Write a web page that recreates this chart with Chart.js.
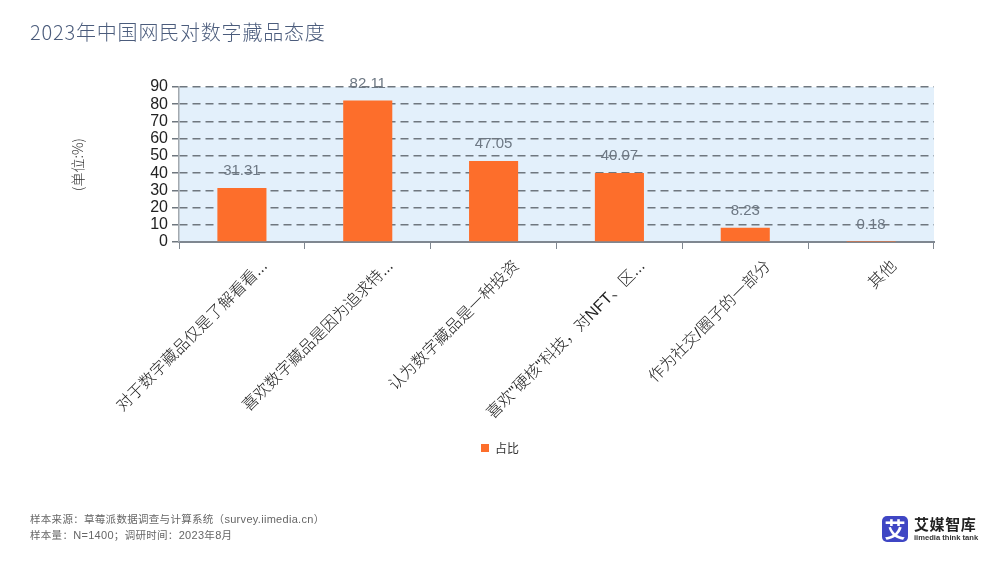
<!DOCTYPE html>
<html>
<head>
<meta charset="utf-8">
<script src="https://cdn.jsdelivr.net/npm/chart.js@4/dist/chart.umd.min.js"></script>
<style>
html, body { margin: 0; padding: 0; background: #fff; }
body { width: 1000px; height: 563px; position: relative; overflow: hidden; font-family: "Noto Sans CJK SC", sans-serif; }
#wrap { position: absolute; left: 0; top: 0; width: 1000px; height: 563px; }
#title { position: absolute; left: 30px; top: 18px; font-size: 20px; letter-spacing: 0.8px; color: #4b5c7c; font-weight: 300; white-space: nowrap; line-height: 28px; }
.foot { position: absolute; left: 30px; font-size: 10.5px; color: #666; white-space: nowrap; line-height: 14px; letter-spacing: 0.3px; }
.foot b { font-family: "Liberation Sans"; font-weight: normal; font-size: 11px; }
#logoBox { position: absolute; left: 882px; top: 516px; width: 26px; height: 26px; border-radius: 5px; background: #3f46c4; color: #fff; font-size: 21px; font-weight: 700; line-height: 25px; text-align: center; }
#logoName { position: absolute; left: 914px; top: 514px; font-size: 15px; font-weight: 700; color: #222; line-height: 20px; letter-spacing: 0.6px; white-space: nowrap; }
#logoSub { position: absolute; left: 914px; top: 533px; font-family: "Liberation Sans"; font-size: 7.6px; font-weight: 700; color: #333; line-height: 10px; white-space: nowrap; }
</style>
</head>
<body>
<div id="wrap"><canvas id="chart" width="1000" height="563"></canvas></div>
<div id="title">2023年中国网民对数字藏品态度</div>
<div class="foot" style="top:512px">样本来源：草莓派数据调查与计算系统（<b>survey.iimedia.cn</b>）</div>
<div class="foot" style="top:528px">样本量：<b>N=1400</b>；调研时间：<b>2023</b>年<b>8</b>月</div>
<div id="logoBox">艾</div>
<div id="logoName">艾媒智库</div>
<div id="logoSub">iimedia think tank</div>
<script>
const categories = [
    "对于数字藏品仅是了解看看...",
    "喜欢数字藏品是因为追求特...",
    "认为数字藏品是一种投资",
    "喜欢\"硬核\"科技，对NFT、区...",
    "作为社交/圈子的一部分",
    "其他"
];
const shares = [31.31, 82.11, 47.05, 40.07, 8.23, 0.18];
const seriesName = "占比";
const yTicks = [0, 10, 20, 30, 40, 50, 60, 70, 80, 90];
const yTitle = "(单位:%)";

const plotBackground = {
    id: "plotBackground",
    beforeDraw(chart) {
        let a = chart.chartArea;
        let ctx = chart.ctx;
        ctx.save();
        ctx.fillStyle = "#e3f0fb";
        ctx.fillRect(a.left, a.top, a.right - a.left, a.bottom - a.top);
        ctx.restore();
    }
};

const valueLabels = {
    id: "valueLabels",
    afterDatasetsDraw(chart) {
        let ctx = chart.ctx;
        let bars = chart.getDatasetMeta(0).data;
        ctx.save();
        ctx.font = '15px "Liberation Sans"';
        ctx.fillStyle = "#6d7884";
        ctx.textAlign = "center";
        ctx.textBaseline = "middle";
        bars.forEach(function(bar, i){
            ctx.fillText(shares[i].toFixed(2), bar.x, bar.y - 17);
        });
        ctx.restore();
    }
};

new Chart(document.getElementById("chart"), {
    type: "bar",
    data: {
        labels: categories,
        datasets: [{
            label: seriesName,
            data: shares,
            backgroundColor: "#fd6e2b",
            borderWidth: 0,
            categoryPercentage: 1,
            barPercentage: 0.39
        }]
    },
    options: {
        responsive: false,
        animation: false,
        layout: { padding: { left: 66, right: 66, top: 87, bottom: 99 } },
        plugins: {
            tooltip: { enabled: false },
            legend: {
                position: "bottom",
                labels: {
                    boxWidth: 8,
                    boxHeight: 8,
                    padding: 6,
                    color: "#333",
                    font: { family: '"Noto Sans CJK SC"', size: 12 }
                }
            }
        },
        scales: {
            x: {
                grid: { drawOnChartArea: false, tickLength: 7, tickColor: "#7f8790", offset: true },
                border: { color: "#7f8790", width: 2 },
                afterFit(scale) { scale.height = 194; },
                ticks: {
                    minRotation: 45,
                    maxRotation: 45,
                    autoSkip: false,
                    labelOffset: 23,
                    padding: 8,
                    color: "#222",
                    font: { family: '"Liberation Sans", "Noto Sans CJK SC"', size: 16, weight: 300 }
                }
            },
            y: {
                min: 0,
                max: 90,
                afterBuildTicks(scale) { scale.ticks = yTicks.map(v => ({ value: v })); },
                afterFit(scale) { scale.width = 113; },
                title: {
                    display: true,
                    text: yTitle,
                    color: "#333",
                    padding: { top: 3, bottom: 0 },
                    font: { family: '"Noto Sans CJK SC"', size: 14, weight: 300 }
                },
                grid: {
                    color: "#6f777f",
                    lineWidth: 1.5,
                    tickLength: 7,
                    tickColor: "#6f777f"
                },
                border: { color: "#a3a9af", width: 1.5, dash: [8, 5] },
                ticks: {
                    autoSkip: false,
                    padding: 4,
                    color: "#222",
                    font: { family: '"Liberation Sans"', size: 16 }
                }
            }
        }
    },
    plugins: [plotBackground, valueLabels]
});
</script>
</body>
</html>
